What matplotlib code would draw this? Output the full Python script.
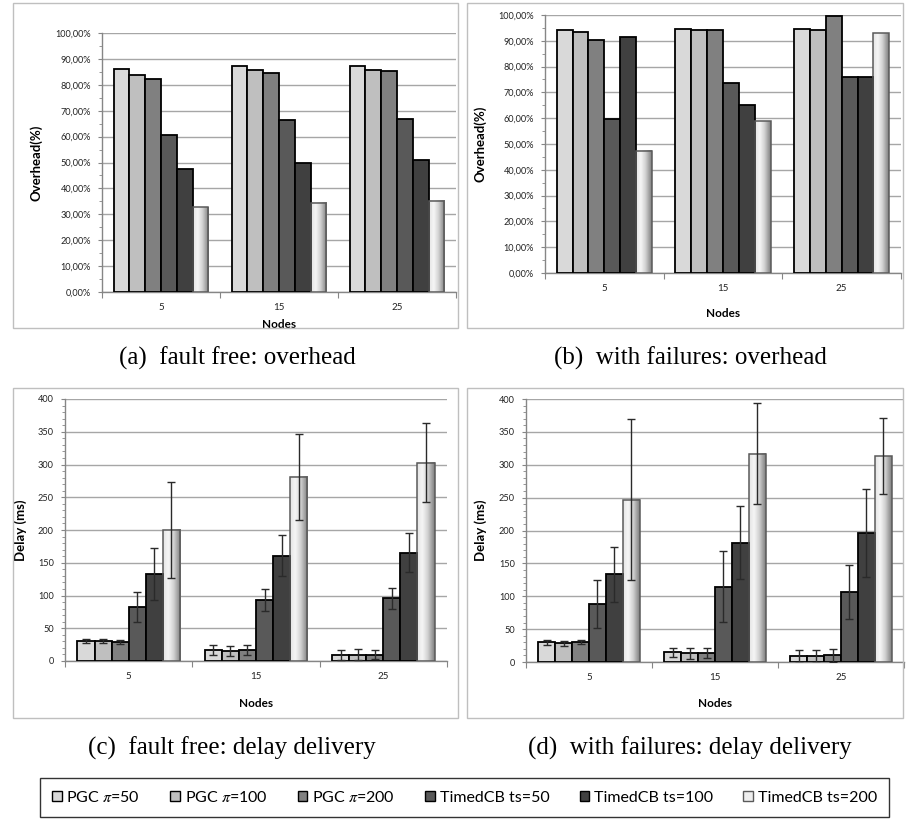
import numpy as np
import matplotlib
matplotlib.use("Agg")
import matplotlib.pyplot as plt
from matplotlib.patches import Rectangle, Patch
from matplotlib.colors import LinearSegmentedColormap
from matplotlib.ticker import FuncFormatter, MultipleLocator

# ---------------- data ----------------
nodes = ["5", "15", "25"]
series = ["PGC $\\pi$=50", "PGC $\\pi$=100", "PGC $\\pi$=200",
          "TimedCB ts=50", "TimedCB ts=100", "TimedCB ts=200"]

# (a) fault free overhead (%)
ovh_ff_pgc50 = [86.0, 87.4, 87.4]
ovh_ff_pgc100 = [83.8, 85.7, 85.9]
ovh_ff_pgc200 = [82.4, 84.5, 85.2]
ovh_ff_ts50 = [60.6, 66.6, 66.9]
ovh_ff_ts100 = [47.6, 49.8, 50.9]
ovh_ff_ts200 = [32.8, 34.5, 35.2]

# (b) with failures overhead (%)
ovh_wf_pgc50 = [94.1, 94.6, 94.6]
ovh_wf_pgc100 = [93.5, 94.0, 94.3]
ovh_wf_pgc200 = [90.3, 94.0, 99.7]
ovh_wf_ts50 = [59.8, 73.8, 75.8]
ovh_wf_ts100 = [91.3, 65.1, 75.8]
ovh_wf_ts200 = [47.3, 58.9, 93.0]

# (c) fault free delay (ms) and error
dly_ff_pgc50 = [30.5, 16.8, 9.7]
dly_ff_pgc100 = [30.5, 15.3, 9.7]
dly_ff_pgc200 = [29.5, 16.8, 9.7]
dly_ff_ts50 = [82.0, 93.0, 95.7]
dly_ff_ts100 = [132.5, 160.8, 165.4]
dly_ff_ts200 = [200.0, 281.0, 302.8]
err_ff_pgc50 = [3.3, 7.8, 7.5]
err_ff_pgc100 = [3.3, 7.6, 8.0]
err_ff_pgc200 = [3.0, 7.6, 7.2]
err_ff_ts50 = [23.0, 17.0, 16.5]
err_ff_ts100 = [40.0, 31.0, 30.0]
err_ff_ts200 = [73.0, 66.0, 60.5]

# (d) with failures delay (ms) and error
dly_wf_pgc50 = [29.9, 14.7, 8.6]
dly_wf_pgc100 = [28.4, 13.2, 8.6]
dly_wf_pgc200 = [29.9, 13.2, 10.1]
dly_wf_ts50 = [88.8, 114.7, 106.0]
dly_wf_ts100 = [133.5, 181.7, 196.8]
dly_wf_ts200 = [246.6, 316.7, 313.2]
err_wf_pgc50 = [3.5, 6.6, 10.0]
err_wf_pgc100 = [3.8, 8.0, 10.0]
err_wf_pgc200 = [3.0, 7.6, 10.0]
err_wf_ts50 = [36.5, 54.0, 41.0]
err_wf_ts100 = [42.0, 56.0, 67.0]
err_wf_ts200 = [122.5, 77.0, 58.0]

captions = ["(a)  fault free: overhead", "(b)  with failures: overhead",
            "(c)  fault free: delay delivery", "(d)  with failures: delay delivery"]

# ---------------- style ----------------
plt.rcParams['font.family'] = ['Lato', 'DejaVu Sans']
plt.rcParams['mathtext.fontset'] = 'stix'
fills = ["#D9D9D9", "#BFBFBF", "#808080", "#595959", "#404040", None]
grad_cmap = LinearSegmentedColormap.from_list(
    "g", [(0, "#E4E4E4"), (0.3, "#F6F6F6"), (0.6, "#D2D2D2"), (1, "#7E7E7E")])

W, H = 906, 819
fig = plt.figure(figsize=(W / 100, H / 100), dpi=100)


def fax(l, r, t, b):
    return fig.add_axes([l / W, 1 - b / H, (r - l) / W, (b - t) / H])


def draw(ax, vals, errs, ymax, major, minor, pct, ylabel, ylab_x, nodes_y):
    n = len(vals)
    x = np.arange(len(nodes))
    w = 0.134
    for i, v in enumerate(vals):
        pos = x + (i - (n - 1) / 2) * w
        if fills[i] is not None:
            ax.bar(pos, v, w, color=fills[i], edgecolor="black", linewidth=1.3, zorder=3)
        else:
            bars = ax.bar(pos, v, w, facecolor="none", edgecolor="#5A5A5A",
                          linewidth=1.1, zorder=3)
            grad = np.linspace(0, 1, 64).reshape(1, -1)
            for p in bars:
                ax.imshow(grad, extent=[p.get_x(), p.get_x() + p.get_width(), 0, p.get_height()],
                          aspect="auto", cmap=grad_cmap, zorder=2.9, interpolation="bicubic")
        if errs is not None:
            ax.errorbar(pos, v, yerr=errs[i], fmt="none", ecolor="#2A2A2A",
                        elinewidth=1.0, capsize=3, capthick=1.0, zorder=4)
    ax.set_xlim(-0.5, len(nodes) - 0.5)
    ax.set_ylim(0, ymax)
    ax.set_aspect("auto")
    ax.yaxis.set_major_locator(MultipleLocator(major))
    ax.yaxis.set_minor_locator(MultipleLocator(minor))
    if pct:
        ax.yaxis.set_major_formatter(FuncFormatter(lambda v, p: ("%.2f%%" % v).replace(".", ",")))
    ax.grid(axis="y", which="major", color="#A6A6A6", linewidth=1.0, zorder=0)
    ax.set_axisbelow(True)
    for s in ["top", "right"]:
        ax.spines[s].set_visible(False)
    for s in ["left", "bottom"]:
        ax.spines[s].set_color("#868686")
        ax.spines[s].set_linewidth(1.0)
    ax.set_xticks(np.arange(len(nodes) + 1) - 0.5)
    ax.set_xticklabels([])
    ax.set_xticks(x, minor=True)
    ax.set_xticklabels(nodes, minor=True)
    ax.tick_params(axis="x", which="major", length=4, color="#868686", direction="out")
    ax.tick_params(axis="x", which="minor", length=0, pad=8, labelsize=7, labelcolor="#222222")
    ax.tick_params(axis="y", which="major", length=3, color="#868686", pad=5,
                   labelsize=6.6, labelcolor="#222222")
    ax.tick_params(axis="y", which="minor", length=2, color="#868686")
    ax.set_ylabel(ylabel, fontsize=9.5, fontweight="bold")
    ax.yaxis.set_label_coords(ylab_x, 0.5)
    ax.set_xlabel("Nodes", fontsize=8.5, fontweight="bold")
    ax.xaxis.set_label_coords(0.5, nodes_y)


# panel frames
for (l, t, r, b) in [(13, 3, 458, 328), (467, 3, 903, 328), (13, 388, 458, 718), (467, 388, 903, 718)]:
    fig.patches.append(Rectangle((l / W, 1 - b / H), (r - l) / W, (b - t) / H, transform=fig.transFigure,
                                 fill=False, edgecolor="#BFBFBF", linewidth=1.0))

axa = fax(102, 456, 33, 292)
draw(axa, [ovh_ff_pgc50, ovh_ff_pgc100, ovh_ff_pgc200, ovh_ff_ts50, ovh_ff_ts100, ovh_ff_ts200],
     None, 100, 10, 5, True, "Overhead(%)", -0.167, -0.104)
axb = fax(545, 901, 15, 273)
draw(axb, [ovh_wf_pgc50, ovh_wf_pgc100, ovh_wf_pgc200, ovh_wf_ts50, ovh_wf_ts100, ovh_wf_ts200],
     None, 100, 10, 5, True, "Overhead(%)", -0.163, -0.136)
axc = fax(65, 447, 399, 661)
draw(axc, [dly_ff_pgc50, dly_ff_pgc100, dly_ff_pgc200, dly_ff_ts50, dly_ff_ts100, dly_ff_ts200],
     [err_ff_pgc50, err_ff_pgc100, err_ff_pgc200, err_ff_ts50, err_ff_ts100, err_ff_ts200],
     400, 50, 10, False, "Delay (ms)", -0.10, -0.141)
axd = fax(526, 904, 399, 662)
draw(axd, [dly_wf_pgc50, dly_wf_pgc100, dly_wf_pgc200, dly_wf_ts50, dly_wf_ts100, dly_wf_ts200],
     [err_wf_pgc50, err_wf_pgc100, err_wf_pgc200, err_wf_ts50, err_wf_ts100, err_wf_ts200],
     400, 50, 10, False, "Delay (ms)", -0.103, -0.137)

# captions
for cx, cy, txt in [(237, 358, captions[0]), (690, 358, captions[1]),
                    (232, 748, captions[2]), (690, 748, captions[3])]:
    fig.text(cx / W, 1 - cy / H, txt, ha="center", va="center", fontsize=18,
             family=["Liberation Serif", "DejaVu Serif"])

# legend
handles = [Patch(facecolor=(c if c is not None else "#EEEEEE"),
                 edgecolor=("black" if c is not None else "#5A5A5A"), linewidth=1.0)
           for c in fills]
leg = fig.legend(handles, series, loc="lower left", ncol=6, mode="expand",
                 bbox_to_anchor=(40 / W, 1 - 817 / H, (889 - 40) / W, (817 - 776) / H),
                 borderaxespad=0, frameon=True, fancybox=False, edgecolor="black",
                 handlelength=0.6, handleheight=0.6, handletextpad=0.3, columnspacing=1.0,
                 borderpad=0.75,
                 prop={"family": ["Lato", "DejaVu Sans"], "size": 11.5})
leg.get_frame().set_linewidth(1.0)

fig.savefig("out.png", dpi=100)
